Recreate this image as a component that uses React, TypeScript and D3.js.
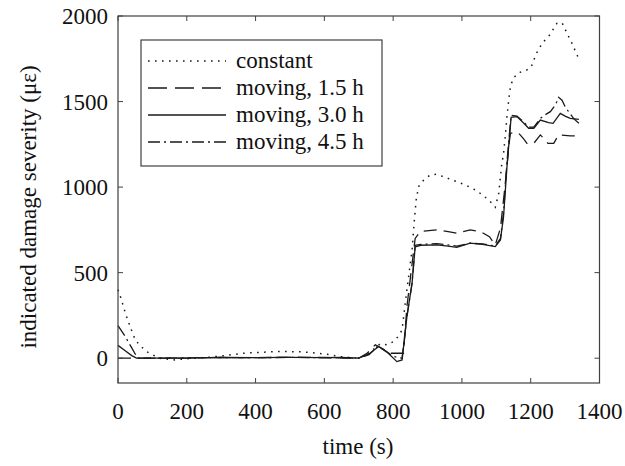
import React, { useEffect, useRef, useState } from "react";
import * as d3 from "d3";

const xTicks = [0, 200, 400, 600, 800, 1000, 1200, 1400];
const yTicks = [0, 500, 1000, 1500, 2000];

const constT = [0, 8, 21, 35, 51, 81, 120, 164, 200, 253, 310, 365, 420, 471, 539, 607, 646, 680, 700, 730, 762, 782, 801, 816, 826, 835, 845, 855, 861, 867, 874, 889, 908, 927, 966, 1010, 1043, 1078, 1097, 1107, 1115, 1121, 1126, 1131, 1136, 1141, 1149, 1165, 1184, 1201, 1209, 1218, 1233, 1255, 1276, 1291, 1308, 1320, 1337];
const constV = [400, 354, 266, 185, 103, 41, 0, -10, -3, 3, 15, 29, 35, 39, 37, 23, 9, 3, 0, 30, 84, 78, 97, 130, 165, 321, 477, 633, 790, 925, 1003, 1042, 1071, 1075, 1046, 1013, 979, 925, 882, 964, 1120, 1198, 1295, 1412, 1509, 1587, 1636, 1669, 1679, 1700, 1743, 1786, 1840, 1889, 1957, 1961, 1889, 1840, 1762];

const m15T = [0, 100, 200, 300, 400, 500, 600, 700, 725, 748, 770, 792, 830, 840, 855, 864, 879, 927, 960, 986, 1024, 1054, 1080, 1097, 1112, 1125, 1137, 1141, 1165, 1180, 1189, 1209, 1228, 1240, 1250, 1267, 1281, 1315, 1340];
const m15V = [0, 0, 0, 4, 3, 5, 4, 0, 30, 78, 55, 29, 29, 300, 550, 700, 740, 750, 740, 730, 750, 740, 710, 662, 760, 1000, 1250, 1315, 1315, 1280, 1256, 1256, 1305, 1280, 1256, 1256, 1305, 1299, 1299];

const m30T = [0, 20, 40, 54, 100, 200, 300, 400, 500, 600, 650, 700, 730, 758, 785, 811, 826, 840, 855, 864, 880, 927, 960, 985, 1024, 1060, 1097, 1112, 1121, 1131, 1143, 1160, 1180, 1194, 1209, 1228, 1252, 1265, 1286, 1300, 1315, 1340];
const m30V = [75, 45, 15, 0, 0, 0, 5, 3, 5, 3, 5, 0, 25, 68, 30, -20, -10, 243, 438, 650, 660, 662, 655, 648, 672, 665, 652, 691, 827, 1120, 1408, 1412, 1373, 1344, 1344, 1392, 1377, 1373, 1431, 1415, 1402, 1396];

const m45T = [0, 20, 40, 57, 100, 200, 300, 400, 500, 600, 700, 730, 755, 780, 800, 826, 840, 855, 864, 880, 927, 985, 1024, 1060, 1097, 1112, 1121, 1131, 1143, 1160, 1180, 1194, 1209, 1228, 1240, 1257, 1272, 1281, 1291, 1300, 1310, 1325, 1340];
const m45V = [190, 130, 60, 0, 0, 2, 4, 3, 5, 3, 0, 20, 70, 40, 10, 0, 243, 438, 660, 665, 670, 655, 672, 668, 655, 700, 850, 1150, 1420, 1415, 1380, 1350, 1350, 1402, 1420, 1441, 1480, 1525, 1508, 1470, 1441, 1400, 1373];

const seriesNames = ["constant", "moving, 1.5 h", "moving, 3.0 h", "moving, 4.5 h"];
const seriesT = [constT, m15T, m30T, m45T];
const seriesV = [constV, m15V, m30V, m45V];
const dashes = ["1.6,5.4", "13,7", "", "12,4,2,4"];

const fams = ["Liberation Serif"];
const FONT_CSS = `"${fams[0]}", "Times New Roman", Tinos, Times, serif`;

const W = 625, H = 466;
const L = 118, R = 599.5, T = 16, B = 383;

export default function App() {
  const ref = useRef<SVGSVGElement | null>(null);
  const [, setTick] = useState(0);
  const x = d3.scaleLinear().domain([0, 1400]).range([L, R]);
  const y = d3.scaleLinear().domain([-145, 2000]).range([B, T]);
  const line = d3.line<[number, number]>().x(d => x(d[0])).y(d => y(d[1]));
  const ink = "#1a1a1a";
  const frame = "#404040";

  useEffect(() => {
    const apply = () => {
      if (!ref.current) return;
      d3.select(ref.current).selectAll("text")
        .style("font-family", FONT_CSS, "important")
        .style("font-size", "23px", "important");
    };
    apply();
    const fs: any = (document as any).fonts;
    if (fs && fs.load) {
      fs.load(`23px "${fams[0]}"`).then(() => { apply(); setTick(t => t + 1); }).catch(() => {});
    }
  }, []);

  const ts = { fontFamily: `"${fams[0]}"`, fontSize: "23px" } as React.CSSProperties;
  return (
    <svg ref={ref} width={W} height={H} style={{ position: "absolute", left: 0, top: 0 }}>
      <rect x={0} y={0} width={W} height={H} fill="#fff" />
      {seriesT.map((tt, i) => (
        <path key={i} d={line(tt.map((t, j) => [t, seriesV[i][j]] as [number, number])) || ""}
          fill="none" stroke={ink} strokeWidth={i === 0 ? 1.5 : 1.3}
          strokeDasharray={dashes[i] || undefined} />
      ))}
      <rect x={L} y={T} width={R - L} height={B - T} fill="none" stroke={frame} strokeWidth={1.2} />
      {xTicks.map(t => (
        <g key={"x" + t}>
          <line x1={x(t)} x2={x(t)} y1={B} y2={B - 5} stroke={frame} strokeWidth={1} />
          <line x1={x(t)} x2={x(t)} y1={T} y2={T + 5} stroke={frame} strokeWidth={1} />
        </g>
      ))}
      {yTicks.map(v => (
        <g key={"y" + v}>
          <line x1={L} x2={L + 5} y1={y(v)} y2={y(v)} stroke={frame} strokeWidth={1} />
          <line x1={R} x2={R - 5} y1={y(v)} y2={y(v)} stroke={frame} strokeWidth={1} />
        </g>
      ))}
      {xTicks.map(t => (
        <text key={"xl" + t} x={x(t)} y={419} textAnchor="middle" style={ts} fill="#111">{String(t)}</text>
      ))}
      {yTicks.map(v => (
        <text key={"yl" + v} x={108} y={y(v) + 8} textAnchor="end" style={ts} fill="#111">{String(v)}</text>
      ))}
      <text x={358} y={454} textAnchor="middle" style={ts} fill="#111">time (s)</text>
      <text transform="translate(36,207) rotate(-90)" textAnchor="middle" style={ts} fill="#111">indicated damage severity (με)</text>
      <rect x={141} y={40} width={241} height={126} fill="#fff" stroke={frame} strokeWidth={1.2} />
      {seriesNames.map((n, i) => {
        const ly = 61 + i * 27;
        return (
          <line key={"ll" + i} x1={148} x2={226} y1={ly} y2={ly} stroke={ink} strokeWidth={i === 0 ? 1.5 : 1.3}
            strokeDasharray={i === 1 ? "19,8" : dashes[i] || undefined} />
        );
      })}
      {seriesNames.map((n, i) => (
        <text key={"lt" + i} x={236} y={61 + i * 27 + 7} style={ts} fill="#111">{n}</text>
      ))}
    </svg>
  );
}
